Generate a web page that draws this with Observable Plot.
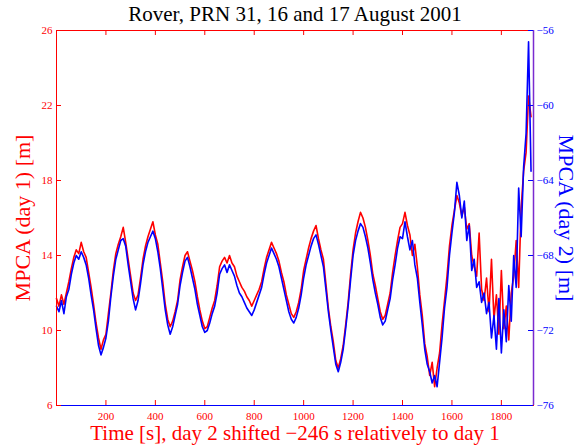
<!DOCTYPE html>
<html><head><meta charset="utf-8">
<script src="https://cdn.jsdelivr.net/npm/d3@7"></script>
<script src="https://cdn.jsdelivr.net/npm/@observablehq/plot@0.6"></script>
<style>body{margin:0;background:#fff} #chart{width:586px;height:447px}</style>
</head><body><div id="chart"></div>
<script>
const title = "Rover, PRN 31, 16 and 17 August 2001";
const xLabel = "Time [s], day 2 shifted \u2212246 s relatively to day 1";
const yLabelLeft = "MPCA (day 1) [m]";
const yLabelRight = "MPCA (day 2) [m]";
const xTicks = [200, 400, 600, 800, 1000, 1200, 1400, 1600, 1800];
const leftTicks = [6, 10, 14, 18, 22, 26];
const rightTicks = [-76, -72, -68, -64, -60, -56];
const xDomain = [0, 1930];

const time = [0,10,20,30,40,50,60,70,80,90,
100,110,120,130,140,150,160,170,180,190,
200,210,220,230,240,250,260,270,280,290,
300,310,320,330,340,350,360,370,380,390,
400,410,420,430,440,450,460,470,480,490,
500,510,520,530,540,550,560,570,580,590,
600,610,620,630,640,650,660,670,680,690,
700,710,720,730,740,750,760,770,780,790,
800,810,820,830,840,850,860,870,880,890,
900,910,920,930,940,950,960,970,980,990,
1000,1010,1020,1030,1040,1050,1060,1070,1080,1090,
1100,1110,1120,1130,1140,1150,1160,1170,1180,1190,
1200,1210,1220,1230,1240,1250,1260,1270,1280,1290,
1300,1310,1320,1330,1340,1350,1360,1370,1380,1390,
1400,1410,1420,1430,1440,1450,1460,1470,1480,1490,
1500,1510,1520,1530,1540,1550,1560,1570,1580,1590,
1600,1610,1620,1630,1640,1650,1660,1670,1680,1690,
1700,1710,1720,1730,1740,1750,1760,1770,1780,1790,
1800,1810,1820,1830,1840,1850,1860,1870,1880,1890,
1900,1910,1920];

const day1 = [11.7,11.3,11.9,11.4,12.0,12.6,13.3,13.9,14.3,14.1,
14.7,14.2,13.9,13.1,12.3,11.4,10.4,9.6,9.0,9.5,
9.8,10.9,12.0,13.2,14.1,14.6,15.0,15.5,14.7,13.8,
12.9,12.0,11.6,11.9,12.8,13.8,14.5,15.0,15.4,15.8,
15.1,14.6,13.6,12.6,11.4,10.6,10.2,10.5,11.0,11.6,
12.7,13.4,14.0,14.2,13.7,13.2,12.6,11.8,11.1,10.5,
10.1,10.2,10.7,11.2,11.6,12.4,13.4,13.7,13.9,13.6,
14.0,13.6,13.4,12.9,12.6,12.3,12.1,11.8,11.6,11.3,
11.6,11.9,12.2,12.6,13.3,13.9,14.3,14.7,14.4,14.1,
13.7,13.1,12.6,11.9,11.4,10.9,10.7,11.0,11.5,12.2,
13.2,13.8,14.4,14.9,15.3,15.6,14.9,14.3,13.8,12.5,
11.2,10.2,9.4,8.4,8.0,8.5,9.2,10.3,11.5,13.0,
14.3,15.2,15.8,16.3,16.0,15.5,14.8,14.0,13.0,12.4,
11.7,11.0,10.6,10.8,11.4,12.0,13.1,14.0,14.8,15.5,
15.7,16.3,15.6,15.1,14.0,14.6,13.4,11.9,10.8,9.3,
8.6,7.6,8.3,7.0,8.0,8.8,10.3,11.6,12.9,14.5,
15.6,16.4,17.2,16.8,16.1,16.6,15.4,15.7,14.0,13.4,
12.9,15.2,12.2,11.6,12.8,11.0,13.8,10.6,11.9,9.8,
13.2,10.1,11.3,9.5,12.0,12.9,14.8,12.3,16.5,18.5,
19.5,22.5,21.4];

const day2 = [-70.7,-71.0,-70.4,-71.1,-70.2,-69.8,-69.0,-68.4,-68.0,-68.2,
-67.8,-68.1,-68.5,-69.2,-70.1,-70.9,-71.9,-72.8,-73.3,-72.9,
-72.4,-71.5,-70.2,-69.1,-68.2,-67.7,-67.2,-67.1,-67.5,-68.5,
-69.4,-70.3,-70.9,-70.4,-69.5,-68.5,-67.8,-67.3,-67.0,-66.7,
-67.1,-67.8,-68.7,-69.8,-70.9,-71.7,-72.2,-71.8,-71.2,-70.6,
-69.6,-68.9,-68.3,-68.1,-68.6,-69.2,-69.8,-70.6,-71.2,-71.8,
-72.1,-72.0,-71.6,-71.1,-70.7,-70.0,-69.0,-68.7,-68.5,-68.9,
-68.5,-68.8,-69.1,-69.6,-70.0,-70.2,-70.5,-70.8,-71.0,-71.2,
-70.9,-70.5,-70.1,-69.7,-69.0,-68.4,-68.0,-67.6,-67.9,-68.2,
-68.6,-69.2,-69.8,-70.4,-71.0,-71.4,-71.6,-71.3,-70.8,-70.1,
-69.2,-68.5,-68.0,-67.5,-67.1,-66.9,-67.4,-68.0,-68.6,-69.8,
-71.0,-72.0,-72.9,-73.8,-74.2,-73.7,-73.0,-71.9,-70.7,-69.3,
-68.0,-67.2,-66.7,-66.3,-66.5,-67.0,-67.6,-68.4,-69.3,-70.0,
-70.6,-71.3,-71.7,-71.5,-70.9,-70.3,-69.3,-68.5,-67.6,-67.0,
-67.1,-66.2,-67.0,-67.7,-67.2,-68.5,-69.2,-70.5,-71.7,-73.0,
-73.8,-74.2,-74.8,-74.4,-75.0,-73.7,-72.4,-70.8,-69.7,-68.0,
-66.8,-65.7,-64.1,-64.8,-66.0,-65.1,-67.2,-66.4,-68.8,-68.2,
-69.7,-69.4,-70.5,-70.0,-71.1,-70.5,-72.4,-71.2,-73.0,-70.3,
-73.2,-70.9,-72.6,-69.6,-71.5,-68.0,-69.7,-64.4,-67.0,-63.3,
-61.5,-56.6,-63.5];

const offset = leftTicks[0] - rightTicks[0];
const rows = time.map((t, i) => ({t, d1: day1[i], d2: day2[i]}));
const font = '"Liberation Serif","Times New Roman",serif';
const fmt = d3.format("d");
const RED = "#ff0000", BLUE = "#0000ff";

const plot = Plot.plot({
  width: 586, height: 447,
  marginTop: 30, marginRight: 53, marginBottom: 42, marginLeft: 56,
  style: {fontFamily: font, background: "#fff", overflow: "visible"},
  x: {domain: xDomain},
  y: {domain: [leftTicks[0], leftTicks[leftTicks.length - 1]]},
  marks: [
    Plot.line(rows, {x: "t", y: "d1", stroke: RED, strokeWidth: 1.6}),
    Plot.line(rows, {x: "t", y: d => d.d2 + offset, stroke: BLUE, strokeWidth: 1.6}),
    Plot.frame({stroke: RED}),
    Plot.ruleY([leftTicks[0]], {stroke: BLUE}),
    Plot.ruleX([xDomain[1]], {stroke: "#7a2bd0", strokeWidth: 1.5}),
    Plot.tickX(xTicks, {x: d => d, stroke: RED, insetTop: 370}),
    Plot.tickX(xTicks, {x: d => d, stroke: RED, insetBottom: 370}),
    Plot.tickY(leftTicks, {y: d => d, stroke: RED, insetRight: 472}),
    Plot.tickY(rightTicks, {y: d => d + offset, stroke: BLUE, insetLeft: 472}),
    Plot.axisX({ticks: xTicks, tickSize: 0, tickPadding: 7, fontSize: 11, color: RED, label: null, tickFormat: fmt}),
    Plot.axisY({ticks: leftTicks, anchor: "left", tickSize: 0, tickPadding: 4, fontSize: 11, color: RED, label: null, tickFormat: fmt}),
    Plot.axisY({ticks: rightTicks.map(v => v + offset), anchor: "right", tickSize: 0, tickPadding: 3, fontSize: 11, color: BLUE, label: null, tickFormat: v => fmt(v - offset)}),
    Plot.text([title], {frameAnchor: "top", dy: -16, lineAnchor: "middle", textAnchor: "middle", fontSize: 21, fill: "black"}),
    Plot.text([xLabel], {frameAnchor: "bottom", dy: 28, lineAnchor: "middle", textAnchor: "middle", fontSize: 21, fill: RED}),
    Plot.text([yLabelLeft], {frameAnchor: "left", dx: -34, rotate: -90, lineAnchor: "middle", textAnchor: "middle", fontSize: 22, fill: RED}),
    Plot.text([yLabelRight], {frameAnchor: "right", dx: 33, rotate: 90, lineAnchor: "middle", textAnchor: "middle", fontSize: 22, fill: BLUE})
  ]
});
document.getElementById("chart").append(plot);
</script>
</body></html>
